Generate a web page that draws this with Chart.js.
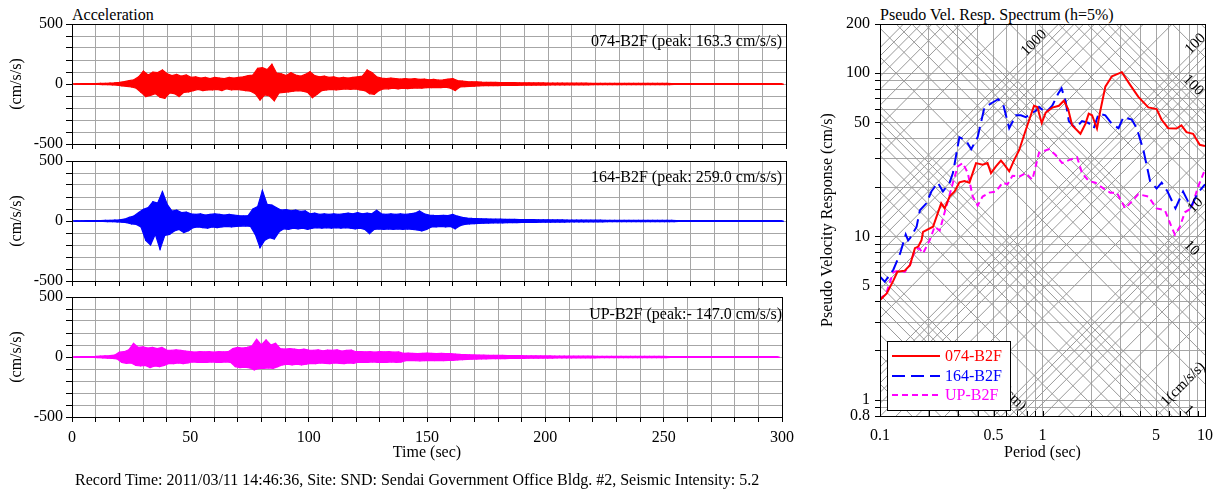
<!DOCTYPE html>
<html>
<head>
<meta charset="utf-8">
<script src="https://cdn.jsdelivr.net/npm/chart.js@4.4.0/dist/chart.umd.min.js"></script>
<style>
body{margin:0;background:#fff;width:1223px;height:494px;position:relative;overflow:hidden;font-family:"Liberation Serif","Times New Roman",serif;}
canvas{position:absolute;}
.txt{position:absolute;font-size:16px;line-height:20px;white-space:nowrap;color:#000;}
</style>
</head>
<body>
<div class="txt" style="left:72px;top:5px">Acceleration</div>
<div class="txt" style="left:880px;top:5px">Pseudo Vel. Resp. Spectrum (h=5%)</div>
<canvas id="w1" width="800" height="160" style="left:0;top:0"></canvas>
<canvas id="w2" width="800" height="160" style="left:0;top:137px"></canvas>
<canvas id="w3" width="800" height="189" style="left:0;top:273px"></canvas>
<canvas id="sp" width="423" height="466" style="left:800px;top:0"></canvas>
<div class="txt" style="right:441px;top:31px">074-B2F (peak: 163.3 cm/s/s)</div>
<div class="txt" style="right:441px;top:167px">164-B2F (peak: 259.0 cm/s/s)</div>
<div class="txt" style="right:441px;top:304px">UP-B2F (peak:- 147.0 cm/s/s)</div>
<div class="txt" style="left:75px;top:470px">Record Time: 2011/03/11 14:46:36, Site: SND: Sendai Government Office Bldg. #2, Seismic Intensity: 5.2</div>
<script>
// acceleration envelopes, one hi/lo pair per 2 s bin (cm/s/s)
const binSec = 2;
const redHi = [2,2,3,3,3,4,5,6,8,10,
  14,20,28,35,60,108,75,100,95,117,
  85,70,80,65,75,55,60,50,55,45,
  55,50,45,55,50,55,60,70,75,130,
  136,120,165,90,85,70,95,75,65,80,
  103,70,60,65,55,60,50,55,50,55,
  60,65,117,95,60,50,45,50,45,40,
  45,40,45,38,40,35,38,32,34,40,
  45,28,25,20,18,18,15,14,14,13,
  12,12,11,11,10,10,10,9,9,9,
  8,8,8,8,7,7,7,7,7,6,
  6,6,6,6,6,6,5,5,5,5,
  5,5,5,5,5,5,4,4,4,4,
  4,4,4,4,4,4,4,3,3,3,
  3,3,3,3,3,3,3,3,3,3];
const redLo = [-2,-2,-3,-3,-3,-4,-5,-6,-8,-10,
  -15,-20,-25,-35,-70,-105,-95,-80,-110,-120,
  -75,-80,-105,-70,-65,-55,-45,-55,-50,-50,
  -45,-55,-40,-50,-45,-50,-55,-60,-80,-133,
  -90,-100,-140,-75,-70,-65,-60,-55,-60,-70,
  -114,-85,-55,-50,-45,-50,-45,-40,-45,-40,
  -50,-55,-80,-86,-55,-40,-40,-35,-40,-35,
  -38,-35,-32,-35,-30,-30,-28,-30,-26,-35,
  -55,-25,-22,-20,-18,-15,-14,-14,-13,-13,
  -12,-12,-11,-11,-10,-10,-10,-9,-9,-9,
  -8,-8,-8,-8,-7,-7,-7,-7,-7,-6,
  -6,-6,-6,-6,-6,-6,-5,-5,-5,-5,
  -5,-5,-5,-5,-5,-5,-4,-4,-4,-4,
  -4,-4,-4,-4,-4,-4,-4,-3,-3,-3,
  -3,-3,-3,-3,-3,-3,-3,-3,-3,-3];
const blueHi = [2,2,2,3,3,3,4,5,6,8,
  10,15,30,42,70,97,111,161,150,245,
  139,83,90,70,75,60,55,60,50,55,
  60,55,50,55,50,45,42,45,100,120,
  255,139,133,110,90,95,85,90,80,85,
  60,65,55,60,55,60,55,60,65,60,
  70,60,65,60,89,60,55,60,55,60,
  55,60,65,83,60,50,47,45,47,45,
  55,40,30,25,22,20,18,17,16,15,
  15,14,13,13,12,12,11,11,10,10,
  10,9,9,9,8,8,8,8,7,7,
  7,7,6,6,6,6,6,6,5,5,
  5,5,5,5,5,5,5,4,4,4,
  4,4,4,4,4,4,4,4,3,3,
  3,3,3,3,3,3,3,3,3,3];
const blueLo = [-2,-2,-2,-3,-3,-3,-4,-5,-6,-8,
  -10,-14,-25,-28,-50,-161,-200,-110,-236,-120,
  -111,-83,-70,-97,-80,-55,-50,-55,-60,-50,
  -55,-50,-45,-50,-45,-42,-40,-45,-111,-222,
  -160,-139,-150,-90,-65,-70,-60,-65,-60,-70,
  -60,-55,-60,-55,-60,-55,-60,-55,-60,-65,
  -60,-70,-105,-70,-65,-70,-65,-70,-65,-70,
  -65,-70,-75,-83,-70,-50,-50,-45,-50,-45,
  -65,-40,-28,-25,-22,-20,-18,-17,-16,-15,
  -15,-14,-13,-13,-12,-12,-11,-11,-10,-10,
  -10,-9,-9,-9,-8,-8,-8,-8,-7,-7,
  -7,-7,-6,-6,-6,-6,-6,-6,-5,-5,
  -5,-5,-5,-5,-5,-5,-5,-4,-4,-4,
  -4,-4,-4,-4,-4,-4,-4,-4,-3,-3,
  -3,-3,-3,-3,-3,-3,-3,-3,-3,-3];
const upHi = [2,2,3,3,4,5,8,10,12,15,
  40,44,60,114,80,85,75,80,70,80,
  58,55,60,55,50,45,40,45,42,44,
  40,45,42,44,70,80,75,80,90,147,
  100,142,100,114,70,65,70,65,60,65,
  58,55,60,52,58,55,60,50,55,58,
  44,45,42,44,40,45,42,44,40,42,
  30,32,30,28,30,32,30,28,30,28,
  28,25,22,20,18,17,16,15,14,14,
  13,13,12,12,11,11,10,10,10,9,
  9,9,8,8,8,8,7,7,7,7,
  7,6,6,6,6,6,6,5,5,5,
  5,5,5,5,5,5,4,4,4,4,
  4,4,4,4,4,4,4,4,4,3,
  3,3,3,3,3,3,3,3,3,3];
const upLo = [-2,-2,-3,-3,-4,-5,-8,-10,-12,-15,
  -45,-53,-50,-70,-75,-70,-89,-75,-80,-70,
  -53,-55,-50,-55,-50,-40,-45,-42,-45,-40,
  -44,-45,-40,-45,-80,-88,-85,-90,-108,-95,
  -95,-90,-95,-80,-65,-60,-65,-60,-65,-60,
  -53,-55,-50,-53,-55,-50,-53,-55,-50,-53,
  -44,-42,-45,-40,-44,-42,-45,-40,-44,-42,
  -30,-28,-30,-32,-30,-28,-30,-28,-30,-28,
  -28,-25,-22,-20,-18,-17,-16,-15,-14,-14,
  -13,-13,-12,-12,-11,-11,-10,-10,-10,-9,
  -9,-9,-8,-8,-8,-8,-7,-7,-7,-7,
  -7,-6,-6,-6,-6,-6,-6,-5,-5,-5,
  -5,-5,-5,-5,-5,-5,-4,-4,-4,-4,
  -4,-4,-4,-4,-4,-4,-4,-4,-4,-3,
  -3,-3,-3,-3,-3,-3,-3,-3,-3,-3];

// pseudo velocity response spectra (period sec, cm/s)
const redT = [0.1,0.11,0.121,0.128,0.142,0.153,0.164,0.172,0.18,0.184,0.212,0.238,0.25,0.268,0.288,0.308,0.331,0.355,0.39,0.428,0.459,0.482,0.517,0.555,0.582,0.624,0.669,0.718,0.789,0.887,0.929,0.989,1.046,1.148,1.261,1.353,1.438,1.521,1.712,1.837,1.925,2.018,2.164,2.269,2.436,2.675,3.078,3.461,3.89,4.48,5.04,5.4,5.94,6.67,7.16,7.69,8.45,9.28,10];
const redV = [4.1,4.5,5.4,6.1,6.2,6.7,8.5,8.7,9.5,10.7,11.5,16.0,14.9,17.6,18.9,21.5,21.9,21.4,28.2,27.6,28.2,24.5,26.9,29.2,27.6,25.1,29.4,33.8,44.9,63.2,62.2,49.6,57.4,61.6,63.2,67.8,60.3,48.0,42.6,49.0,56.6,55.3,45.9,58.9,82.8,95.7,101.5,84.9,71.6,61.8,60.3,52.1,46.1,45.9,48.0,43.6,42.6,36.5,35.8];
const blueT = [0.1,0.107,0.121,0.133,0.144,0.149,0.153,0.168,0.176,0.193,0.207,0.227,0.244,0.268,0.281,0.308,0.339,0.364,0.399,0.439,0.493,0.534,0.573,0.624,0.686,0.736,0.789,0.908,0.952,1.046,1.148,1.25,1.31,1.386,1.452,1.596,1.751,1.925,2.065,2.216,2.436,2.675,2.937,3.15,3.542,3.8,4.18,4.59,5.04,5.41,5.88,6.58,7.33,8.18,9.06,10];
const blueV = [5.7,5.3,6.3,7.9,10.3,9.5,9.8,11.5,14.5,16.0,18.9,21.4,18.9,21.4,24.5,40.6,38.7,34.3,40.6,61.7,66.2,69.3,64.3,46.1,55.3,55.3,53.9,58.9,62.2,57.4,63.2,75.2,80.8,67.8,50.9,46.1,50.9,49.6,45.9,56.6,55.3,49.0,46.1,53.9,52.1,46.1,33.8,21.9,19.7,21.4,18.9,14.9,18.9,15.2,18.6,20.9];
const upT = [0.1,0.11,0.121,0.133,0.142,0.153,0.164,0.174,0.184,0.202,0.217,0.233,0.25,0.262,0.281,0.301,0.323,0.347,0.372,0.399,0.428,0.471,0.517,0.568,0.609,0.654,0.718,0.789,0.866,0.952,1.096,1.204,1.321,1.452,1.633,1.751,1.925,2.115,2.376,2.612,2.866,3.226,3.542,3.89,4.48,5.04,5.67,6.22,6.53,7.0,7.52,8.25,9.06,10];
const upV = [4.1,4.6,6.1,6.2,6.1,6.7,8.3,8.5,7.9,9.5,11.5,10.9,14.1,16.6,21.4,26.9,28.2,24.5,17.6,15.5,17.6,18.6,18.9,21.4,20.9,23.6,23.3,24.5,22.3,32.6,34.3,31.6,28.2,29.4,30.6,24.5,21.9,21.4,19.7,18.6,18.6,14.9,16.4,18.2,17.6,14.9,14.5,11.5,10.3,11.5,14.1,14.9,20.2,25.7];

// tripartite grid
const gridSteps = [1,2,3,4,5,6,7,8,9];
const accDecades = [1,10,100,1000];
const dispDecades = [0.01,0.1,1,10,100];
const specXLabels = [0.1,0.5,1,5,10];
const specYLabels = [0.8,1,5,10,50,100,200];
const specXDecades = [0.1,1];
const specYDecades = [0.1,1,10,100];
const diagLabels = [
  {text:'1000', kind:'acc', value:1000, T:0.886, dx:0, dy:-6},
  {text:'100', kind:'acc', value:100, T:8.73, dx:0, dy:-6},
  {text:'10', kind:'acc', value:10, T:8.73, dx:0, dy:-8},
  {text:'1(cm/s/s)', kind:'acc', value:1, T:7.33, dx:0, dy:-5},
  {text:'100', kind:'disp', value:100, T:8.45, dx:0, dy:-9},
  {text:'10', kind:'disp', value:10, T:8.27, dx:0, dy:-8},
  {text:'1', kind:'disp', value:1, T:7.9, dx:0, dy:-6},
  {text:'0.1(cm)', kind:'disp', value:0.1, T:0.606, dx:0, dy:-6}
];

Chart.defaults.font.family = '"Liberation Serif","Times New Roman",serif';
Chart.defaults.font.size = 16;
Chart.defaults.color = '#000';
const GRID = '#a6a6a6';
const DIAG = '#999999';

const boxPlugin = {
  id: 'box',
  afterDraw(chart) {
    const a = chart.chartArea, ctx = chart.ctx;
    ctx.save();
    ctx.strokeStyle = '#000';
    ctx.lineWidth = 1;
    ctx.strokeRect(Math.round(a.left) + 0.5, Math.round(a.top) + 0.5, Math.round(a.right - a.left), Math.round(a.bottom - a.top));
    ctx.restore();
  }
};

function makeWave(id, hi, lo, color, bottom) {
  const hiPts = hi.map((v, i) => ({x: i * binSec, y: v}));
  const loPts = lo.map((v, i) => ({x: i * binSec + binSec / 2, y: v}));
  const zig = [];
  hiPts.forEach((p, i) => { zig.push(p, loPts[i]); });
  new Chart(document.getElementById(id), {
    type: 'line',
    data: {datasets: [
      {data: hiPts, borderColor: color, backgroundColor: color, borderWidth: 1.2, fill: '+1', pointRadius: 0, tension: 0},
      {data: loPts, borderColor: color, borderWidth: 1.2, fill: false, pointRadius: 0, tension: 0},
      {data: zig, borderColor: color, borderWidth: 1.2, borderJoinStyle: 'round', fill: false, pointRadius: 0, tension: 0}
    ]},
    options: {
      responsive: false,
      animation: false,
      devicePixelRatio: 1,
      layout: {padding: {top: 24, right: 14, left: 0, bottom: 0}},
      plugins: {legend: {display: false}, tooltip: {enabled: false}, filler: {propagate: false}},
      scales: {
        x: {
          type: 'linear', min: 0, max: 300,
          afterFit: s => { s.height = bottom ? 45 : 16; },
          ticks: {stepSize: 10, autoSkip: false, maxRotation: 0, padding: 6,
            callback: v => (bottom && v % 50 === 0) ? String(v) : ''},
          grid: {color: GRID, tickColor: '#000', tickLength: 5},
          border: {color: '#000'},
          title: {display: bottom, text: 'Time (sec)', padding: {top: 0, bottom: 0}}
        },
        y: {
          min: -500, max: 500,
          afterFit: s => { s.width = 72; },
          ticks: {stepSize: 100, autoSkip: false, padding: 3,
            callback: v => v % 500 === 0 ? String(v) : ''},
          grid: {color: GRID, tickColor: '#000', tickLength: 6},
          border: {color: '#000'},
          title: {display: true, text: '(cm/s/s)', padding: {top: 7, bottom: 0}}
        }
      }
    },
    plugins: [boxPlugin]
  });
}

makeWave('w1', redHi, redLo, '#ff0000', false);
makeWave('w2', blueHi, blueLo, '#0000ff', false);
makeWave('w3', upHi, upLo, '#ff00ff', true);

// spectrum
const TWO_PI = 2 * Math.PI;
const gridSets = [];
accDecades.forEach(d => gridSteps.forEach(m => {
  const A = d * m;
  gridSets.push({data: [{x: 0.1, y: A * 0.1 / TWO_PI}, {x: 10, y: A * 10 / TWO_PI}],
    borderColor: DIAG, borderWidth: 1, pointRadius: 0, order: 10});
}));
dispDecades.forEach(d => gridSteps.forEach(m => {
  const D = d * m;
  gridSets.push({data: [{x: 0.1, y: TWO_PI * D / 0.1}, {x: 10, y: TWO_PI * D / 10}],
    borderColor: DIAG, borderWidth: 1, pointRadius: 0, order: 10});
}));

function xy(T, V) { return T.map((t, i) => ({x: t, y: V[i]})); }
const series = [
  {label: '074-B2F', data: xy(redT, redV), borderColor: '#ff0000', borderWidth: 2, borderDash: [], pointRadius: 0, order: 0},
  {label: '164-B2F', data: xy(blueT, blueV), borderColor: '#0000ff', borderWidth: 2, borderDash: [13, 6], pointRadius: 0, order: 0},
  {label: 'UP-B2F', data: xy(upT, upV), borderColor: '#ff00ff', borderWidth: 2, borderDash: [6, 4], pointRadius: 0, order: 0}
];

function logTicks(decades, lo, hi) {
  const out = [];
  decades.forEach(d => gridSteps.forEach(m => {
    const v = +(d * m).toPrecision(3);
    if (v >= lo - 1e-9 && v <= hi + 1e-9 && out.indexOf(v) < 0) out.push(v);
  }));
  if (out.indexOf(hi) < 0) out.push(hi);
  return out;
}

const specPlugin = {
  id: 'spec',
  afterDatasetsDraw(chart) {
    const ctx = chart.ctx, a = chart.chartArea, xs = chart.scales.x, ys = chart.scales.y;
    ctx.save();
    // inward ticks on the period axis
    ctx.strokeStyle = '#000';
    ctx.lineWidth = 1;
    xs.ticks.forEach(t => {
      const px = Math.round(xs.getPixelForValue(t.value)) + 0.5;
      ctx.beginPath(); ctx.moveTo(px, a.bottom); ctx.lineTo(px, a.bottom - 5); ctx.stroke();
    });
    // diagonal labels
    ctx.beginPath(); ctx.rect(a.left, a.top, a.right - a.left, a.bottom - a.top); ctx.clip();
    ctx.font = '15px "Liberation Serif", serif';
    ctx.fillStyle = '#000';
    ctx.textAlign = 'center';
    ctx.textBaseline = 'middle';
    diagLabels.forEach(l => {
      const V = l.kind === 'acc' ? l.value * l.T / TWO_PI : TWO_PI * l.value / l.T;
      const px = xs.getPixelForValue(l.T) + l.dx, py = ys.getPixelForValue(V) + l.dy;
      ctx.save();
      ctx.translate(px, py);
      ctx.rotate(l.kind === 'acc' ? -Math.PI / 4 : Math.PI / 4);
      ctx.fillText(l.text, 0, 0);
      ctx.restore();
    });
    // legend box
    const lx = a.left + 7, ly = a.bottom - 75, lw = 123, lh = 69;
    ctx.fillStyle = '#fff';
    ctx.fillRect(lx, ly, lw, lh);
    ctx.strokeStyle = '#000';
    ctx.strokeRect(Math.round(lx) + 0.5, Math.round(ly) + 0.5, lw, lh);
    ctx.textAlign = 'left';
    ctx.font = '16px "Liberation Serif", serif';
    series.forEach((s, i) => {
      const yy = Math.round(ly + 15 + i * 19.5);
      ctx.strokeStyle = s.borderColor;
      ctx.lineWidth = 2;
      ctx.setLineDash(s.borderDash);
      ctx.beginPath(); ctx.moveTo(lx + 5, yy); ctx.lineTo(lx + 53, yy); ctx.stroke();
      ctx.setLineDash([]);
      ctx.fillStyle = s.borderColor;
      ctx.fillText(s.label, lx + 58, yy + 1);
    });
    ctx.restore();
  }
};

new Chart(document.getElementById('sp'), {
  type: 'line',
  data: {datasets: gridSets.concat(series)},
  options: {
    responsive: false,
    animation: false,
    devicePixelRatio: 1,
    layout: {padding: {top: 24, right: 16, left: 0, bottom: 0}},
    plugins: {legend: {display: false}, tooltip: {enabled: false}},
    scales: {
      x: {
        type: 'logarithmic', min: 0.1, max: 10,
        afterFit: s => { s.height = 50; },
        afterBuildTicks: s => { s.ticks = logTicks(specXDecades, 0.1, 10).map(v => ({value: v})); },
        ticks: {autoSkip: false, maxRotation: 0, padding: 10,
          callback: v => specXLabels.indexOf(+v.toPrecision(3)) >= 0 ? String(+v.toPrecision(3)) : ''},
        grid: {color: GRID, drawTicks: false},
        border: {color: '#000'},
        title: {display: true, text: 'Period (sec)', padding: {top: 0, bottom: 4}}
      },
      y: {
        type: 'logarithmic', min: 0.8, max: 200,
        afterFit: s => { s.width = 80; },
        afterBuildTicks: s => { s.ticks = logTicks(specYDecades, 0.8, 200).map(v => ({value: v})); },
        ticks: {autoSkip: false, padding: 5,
          callback: v => specYLabels.indexOf(+v.toPrecision(3)) >= 0 ? String(+v.toPrecision(3)) : ''},
        grid: {color: GRID, tickColor: '#000', tickLength: 5},
        border: {color: '#000'},
        title: {display: true, text: 'Pseudo Velocity Response (cm/s)', padding: {top: 18, bottom: 0}}
      }
    }
  },
  plugins: [boxPlugin, specPlugin]
});
</script>
</body>
</html>
